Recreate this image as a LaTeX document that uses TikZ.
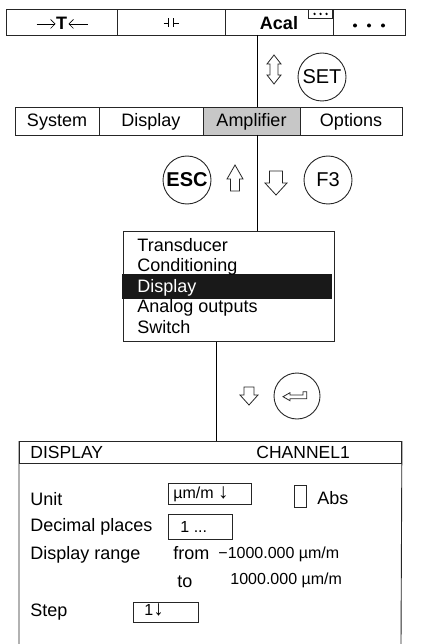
\documentclass[tikz,border=0pt]{standalone}
\usepackage{fontspec}
\setmainfont{Liberation Sans}
\usepackage{xcolor}
\usetikzlibrary{positioning,arrows.meta}

\newcommand{\flechab}{{\fontsize{21}{21}\selectfont ↓}}

\begin{document}
\begin{tikzpicture}[x=1pt, y=-1pt, line width=0.9pt,
        cell/.style={draw=black!85, rectangle, inner sep=0pt, outer sep=0pt, font=\fontsize{18}{20}\selectfont},
        key/.style={draw=black!85, circle, inner sep=0pt, minimum size=48pt, font=\fontsize{20}{22}\selectfont},
        lbl/.style={inner sep=0pt, anchor=base west, font=\fontsize{18}{20}\selectfont},
        val/.style={inner sep=0pt, anchor=base west, font=\fontsize{16}{18}\selectfont},
        field/.style={draw=black!85, rectangle, inner sep=0pt, anchor=north west},
        tara/.style={line width=0.7pt, -{Straight Barb[length=4.5pt, width=9pt]}},
        hueco/.style={draw=black!85, fill=white, line width=0.8pt}]
      \useasboundingbox (0,0) rectangle (424,644);
      % Barra superior de funciones
      \node[cell, minimum width=111, minimum height=26, text height=16pt, text depth=0pt,
            font=\fontsize{18}{20}\selectfont\bfseries, anchor=north west] (bTara) at (6,9) {T};
      \node[cell, minimum width=108, minimum height=26, right=0pt of bTara] (bCap) {};
      \node[cell, minimum width=108, minimum height=26, text height=16pt, text depth=0pt,
            font=\fontsize{18}{20}\selectfont\bfseries, right=0pt of bCap] (bAcal) {Acal};
      \node[cell, minimum width=72, minimum height=26, right=0pt of bAcal] (bDots) {};
      % Flechas de tara ->T<-
      \draw[tara] ([xshift=-25pt, yshift=-2pt]bTara.center) -- ([xshift=-6pt, yshift=-2pt]bTara.center);
      \draw[tara] ([xshift=26pt, yshift=-2pt]bTara.center) -- ([xshift=7pt, yshift=-2pt]bTara.center);
      % Simbolo -||- y puntos
      \draw[shift={(bCap.center)}] (-7.5,1) -- (-2.5,1) (-2.5,-3.5) -- (-2.5,5.5)
                                   (2.5,-3.5) -- (2.5,5.5) (2.5,1) -- (7.5,1);
      \node[draw=black!85, minimum width=24, minimum height=9, inner sep=0pt,
            anchor=north east] (aMore) at (bAcal.north east) {};
      \foreach \dx in {-6,0,6} \fill ([xshift=\dx pt]aMore.center) circle (1.3);
      \foreach \dx in {-14,0,14} \fill ([xshift=\dx pt, yshift=-3.5pt]bDots.center) circle (2);
      % Barra de menu
      \node[cell, minimum width=84, minimum height=28, text height=14pt, text depth=2pt,
            anchor=north west] (mSys) at (15,107) {System};
      \node[cell, minimum width=104, minimum height=28, text height=14pt, text depth=2pt,
            right=0pt of mSys] (mDisp) {Display};
      \node[cell, fill=black!22, minimum width=97, minimum height=28, text height=14pt,
            text depth=2pt, right=0pt of mDisp] (mAmp) {Amplifier};
      \node[cell, minimum width=102, minimum height=28, text height=14pt, text depth=2pt,
            right=0pt of mAmp] (mOpt) {Options};
      % Teclas
      \node[key] (kSet) at (322,77) {SET};
      \node[key, font=\fontsize{20}{22}\selectfont\bfseries] (kEsc) at (187,180) {ESC};
      \node[key] (kF3) at (328,180) {F3};
      \node[key, minimum size=46pt] (kEnter) at (297,396) {};
      % Flechas huecas
      \draw[hueco] (274,55) -- (281,64) -- (278,64) -- (278,75) -- (281,75) -- (274,84)
                   -- (267,75) -- (270,75) -- (270,64) -- (267,64) -- cycle;
      \draw[hueco] (235,165) -- (243,179) -- (239.5,179) -- (239.5,191) -- (230.5,191)
                   -- (230.5,179) -- (227,179) -- cycle;
      \draw[hueco] (269.5,171) -- (282.5,171) -- (282.5,183) -- (287,183) -- (276,195)
                   -- (265,183) -- (269.5,183) -- cycle;
      \draw[hueco] (244,387) -- (254,387) -- (254,395) -- (258,395) -- (249,405)
                   -- (240,395) -- (244,395) -- cycle;
      \draw[hueco] (283,396.7) -- (290,392.7) -- (290,395) -- (303,395) -- (303,391.7)
                   -- (306.7,391.7) -- (306.7,398.7) -- (290,398.7) -- (290,400.7) -- cycle;
      % Submenu
      \node[draw=black!85, rectangle, inner sep=0pt, minimum width=211, minimum height=110,
            anchor=north west] (subMenu) at (123,231) {};
      \node[fill=black!90, inner sep=0pt, minimum width=210, minimum height=25,
            anchor=north west] (selBar) at (122,274) {};
      \node[lbl] (iTrans) at (137,251) {Transducer};
      \node[lbl] (iCond) at (137,271.5) {Conditioning};
      \node[lbl, text=white] (iDisp) at (137,292) {Display};
      \node[lbl] (iAnalog) at (137,312.5) {Analog outputs};
      \node[lbl] (iSwitch) at (137,333) {Switch};
      % Panel DISPLAY
      \node[draw=black!85, rectangle, inner sep=0pt, minimum width=382, minimum height=22,
            anchor=north west] (pHead) at (19,441) {};
      \coordinate (pBL) at (19,644);
      \coordinate (pBR) at (401,644);
      \draw[draw=black!85] (pBL) -- (pHead.north west) (pHead.north east) -- (pBR);
      \node[lbl, font=\fontsize{17.5}{20}\selectfont] (hDisp) at (30,458) {DISPLAY};
      \node[lbl, font=\fontsize{17.5}{20}\selectfont] (hChan) at (256,458) {CHANNEL1};
      \node[lbl] (lUnit) at (30,505) {Unit};
      \node[field, minimum width=83, minimum height=21] (fUnit) at (168,483) {};
      \node[val] (vUnit) at (173,498) {µm/m \flechab};
      \node[field, minimum width=12, minimum height=22] (fAbs) at (294,485) {};
      \node[lbl] (lAbs) at (317,504) {Abs};
      \node[lbl] (lDec) at (30,531) {Decimal places};
      \node[field, minimum width=64, minimum height=25] (fDec) at (168,514) {};
      \node[val] (vDec) at (180,532) {1 ...};
      \node[lbl] (lRange) at (30,559) {Display range};
      \node[lbl] (lFrom) at (173,559) {from};
      \node[val] (vFrom) at (218,558) {−1000.000 µm/m};
      \node[lbl] (lTo) at (177,587) {to};
      \node[val] (vTo) at (230,584) {1000.000 µm/m};
      \node[lbl] (lStep) at (30,616) {Step};
      \node[field, minimum width=65, minimum height=20] (fStep) at (133,602) {};
      \node[val] (vStep) at (144,615) {1\flechab};
      % Conexiones
      \coordinate (vA) at (257,0);
      \coordinate (vB) at (216,0);
      \draw[line width=0.8pt] (bAcal.south -| vA) -- (mAmp.north -| vA);
      \draw[line width=0.8pt] (mAmp.south -| vA) -- (subMenu.north -| vA);
      \draw[line width=0.8pt] (subMenu.south -| vB) -- (pHead.north -| vB);
    \end{tikzpicture}
\end{document}
